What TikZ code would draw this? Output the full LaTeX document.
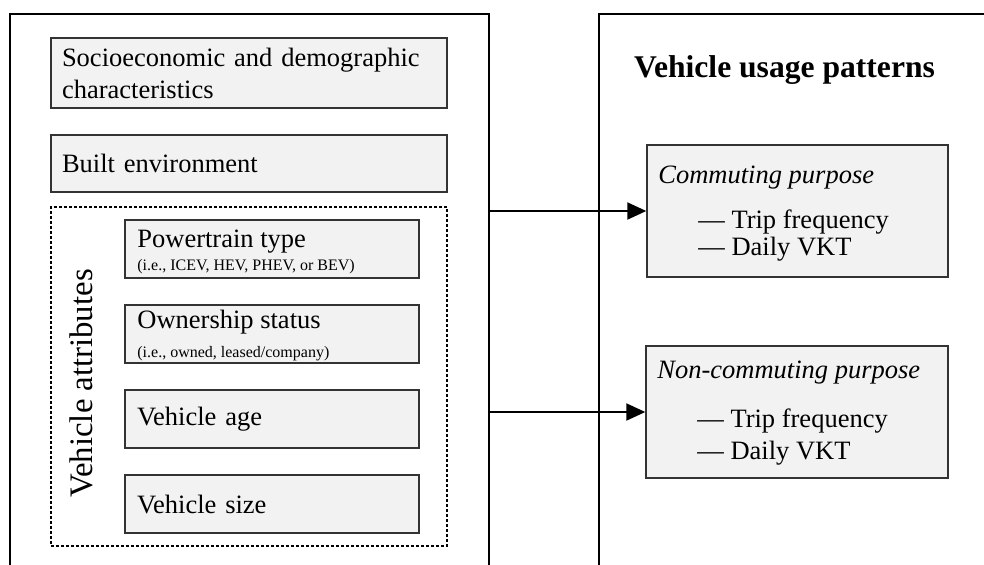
\documentclass[tikz,border=0pt]{standalone}
\usepackage{fontspec}
\setmainfont{Liberation Serif}
\usetikzlibrary{arrows.meta}

\tikzset{
  frame/.style={draw=black,line width=1pt},
  box/.style={draw=black!80,fill=black!5,line width=.7pt,inner xsep=6pt,inner ysep=0pt,
    align=left,font=\fontsize{13.25}{16}\selectfont},
  grp/.style={draw=black,line width=.7pt,dash pattern=on 1.5pt off 1pt},
  txt/.style={anchor=base west,inner sep=0pt,font=\fontsize{13.25}{16}\selectfont},
  ittxt/.style={txt,font=\fontsize{13.25}{16}\selectfont\itshape},
  sub/.style={anchor=base west,inner sep=0pt,font=\fontsize{8}{9}\selectfont},
  arr/.style={line width=1pt,-{Triangle[length=9.5pt,width=8.5pt]}},
}

\begin{document}
\begin{tikzpicture}[x=.5pt,y=-.5pt]
  \useasboundingbox (0,0) rectangle (984,564);
  %% frames, open at the bottom
  \draw[frame] (10,570) -- (10,14) -- (489,14) -- (489,570);
  \draw[frame] (599,570) -- (599,14) -- (990,14);
  \coordinate (out1) at (489,211);
  \coordinate (out2) at (489,412);
  %% explanatory factors
  \node[box,inner xsep=5.5pt,text width=187pt,minimum height=35pt] (socio) at (249,73)
    {Socioeconomic and demographic\\characteristics};
  \node[box,inner xsep=5.5pt,text width=187pt,minimum height=28.5pt] (built) at (249,163.5) {Built environment};
  \node[grp,minimum width=198pt,minimum height=169.5pt] (attrs) at (249,376.5) {};
  \node[rotate=90,anchor=base,inner sep=0pt,font=\fontsize{16.4}{19}\selectfont] (attrlbl)
    at (92,383.5) {Vehicle attributes};
  \node[box,text width=135pt,minimum height=29pt] (power) at (272,249) {};
  \node[txt] (powerlbl) at (137,247) {Powertrain type};
  \node[sub] (powersub) at (137,270) {(i.e., ICEV, HEV, PHEV, or BEV)};
  \node[box,text width=135pt,minimum height=29pt] (owner) at (272,334) {};
  \node[txt] (ownerlbl) at (137,328) {Ownership status};
  \node[sub] (ownersub) at (137,357) {(i.e., owned, leased/company)};
  \node[box,text width=135pt,minimum height=29pt] (age) at (272,419) {Vehicle age};
  \node[box,text width=135pt,minimum height=29pt] (size) at (272,504) {Vehicle size};
  %% usage patterns
  \node[anchor=base,inner sep=0pt,font=\bfseries\fontsize{15.8}{19}\selectfont] (title)
    at (784.5,77) {Vehicle usage patterns};
  \node[box,minimum width=150.5pt,minimum height=66pt] (comm) at (797.5,211) {};
  \node[ittxt] (commttl) at (658,183) {Commuting purpose};
  \node[txt] (commtrip) at (698,228) {--- Trip frequency};
  \node[txt] (commvkt) at (698,255) {--- Daily VKT};
  \node[box,minimum width=151pt,minimum height=66pt] (noncomm) at (797,412) {};
  \node[ittxt] (noncommttl) at (657,378) {Non-commuting purpose};
  \node[txt] (noncommtrip) at (697,427) {--- Trip frequency};
  \node[txt] (noncommvkt) at (697,459) {--- Daily VKT};
  %% links
  \draw[arr] (out1) -- (comm);
  \draw[arr] (out2) -- (noncomm);
\end{tikzpicture}
\end{document}
